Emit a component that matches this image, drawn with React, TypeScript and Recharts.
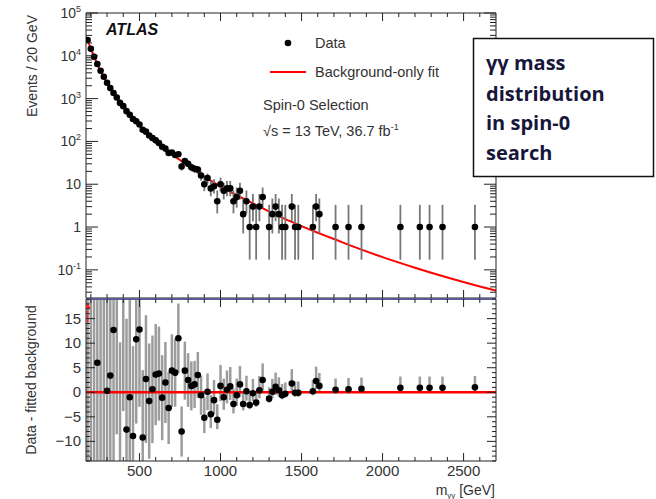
import React from "react";
import { ComposedChart, Line, Scatter, XAxis, YAxis, ErrorBar, ReferenceLine } from "recharts";

// Diphoton events per 20 GeV bin, keyed by bin centre (GeV)
const massBins = [
  180, 200, 220, 240, 260, 280, 300, 320, 340, 360, 380, 400, 420, 440, 460, 480, 500, 520, 540, 560,
  580, 600, 620, 640, 660, 680, 700, 720, 740, 760, 780, 800, 820, 840, 860, 880, 900, 920, 940, 960,
  980, 1000, 1020, 1040, 1060, 1080, 1100, 1120, 1140, 1160, 1180, 1200, 1220, 1240, 1260, 1300, 1320,
  1340, 1360, 1380, 1400, 1440, 1460, 1480, 1570, 1590, 1610, 1710, 1790, 1870, 2110, 2230, 2290, 2370, 2570,
];
const eventCounts = [
  23480, 14560, 9530, 6433, 4460, 3240, 2355, 1763, 1353, 1060, 794, 667, 510, 419, 335, 295, 249, 188, 169, 138,
  120, 106, 92, 75, 68, 54, 55, 48, 50, 26, 35, 30, 25, 23, 22, 16, 10, 14, 8, 9,
  4, 10, 7, 8, 8, 4, 5, 7, 2, 4, 1, 3, 1, 3, 5, 1, 2,
  3, 2, 1, 1, 3, 1, 1, 1, 3, 2, 1, 1, 1, 1, 1, 1, 1, 1,
];
// data minus fitted background, same bins
const residuals = [
  40, -30, 24, 6.0, -20, 30, 0.3, 3.4, 12.7, 24, -18, 22, -7.6, -1.0, -8.9, 10.8, 12.8, -9.2, 2.7, -1.8,
  0.6, 3.6, 3.8, -1.1, 2.0, -3.2, 4.4, 4.0, 11.0, -8.0, 4.4, 2.5, 1.3, 1.6, 3.5, -0.6, -5.2, 0.1, -4.5, -1.6,
  -5.6, 1.3, -1.0, 0.5, 1.2, -2.4, -0.6, 1.6, -2.4, 0.2, -2.6, -0.2, -2.1, 0.4, 2.5, -1.3, 0.1,
  1.1, 0.4, -0.6, -0.3, 1.8, -0.1, -0.1, 0.2, 2.3, 1.3, 0.5, 0.6, 0.7, 0.9, 0.9, 0.9, 0.9, 1.0,
];
// bins whose residual runs off the top of the lower pad
const arrowBins = [180];

// background-only fit
const fitMass = [
  180, 200, 250, 300, 350, 400, 450, 500, 600, 700, 800, 900, 1000, 1100, 1200, 1300, 1400, 1500, 1600,
  1700, 1800, 2000, 2200, 2400, 2600, 2700,
];
const fitEvents = [
  23400, 14590, 5346, 2355, 1175, 645, 380, 236, 102, 50.2, 27.2, 15.1, 8.9, 5.53, 3.58, 2.31, 1.53, 1.05,
  0.736, 0.525, 0.372, 0.198, 0.112, 0.0663, 0.041, 0.0328,
];

// 68% Poisson intervals (down, up) for small counts
const poissonDown = [0, 0.827, 1.292, 1.633, 1.914, 2.159, 2.379, 2.58, 2.768, 2.943, 3.108];
const poissonUp = [1.841, 2.299, 2.637, 2.918, 3.162, 3.382, 3.583, 3.77, 3.944, 4.11, 4.266];

const massTicks = [200, 300, 400, 500, 600, 700, 800, 900, 1000, 1100, 1200, 1300, 1400, 1500, 1600, 1700, 1800, 1900, 2000, 2100, 2200, 2300, 2400, 2500, 2600];
const massLabels = [500, 1000, 1500, 2000, 2500];
const logDecades = [0.1, 1, 10, 100, 1000, 10000, 100000];

const font = "'Liberation Sans', Arial, Helvetica, sans-serif";
const xDomain: [number, number] = [170, 2700];
const eventDomain: [number, number] = [0.022, 100000];
const residualDomain: [number, number] = [-14, 19];

const errOf = (n: number): [number, number] =>
  n <= 10 ? [poissonDown[n], poissonUp[n]] : [Math.sqrt(n), Math.sqrt(n)];

const dataPoints = massBins.map((m, i) => ({ mass: m, value: eventCounts[i], err: errOf(eventCounts[i]) }));

// error bars in the lower pad are cut at the pad edges
const residualPoints = massBins.map((m, i) => {
  const [dn, up] = errOf(eventCounts[i]);
  const v = residuals[i];
  const lo = Math.max(v - dn, residualDomain[0]);
  const hi = Math.min(v + up, residualDomain[1]);
  return { mass: m, value: v, err: [v - lo, hi - v] };
});
const fitPoints = fitMass.map((m, i) => ({ mass: m, value: fitEvents[i] }));
const arrowPoints = arrowBins.map((m) => ({ mass: m, value: 14.2 }));

const logTicks: number[] = [0.03, 0.04, 0.05, 0.06, 0.07, 0.08, 0.09];
logDecades.slice(0, -1).forEach((d) => {
  for (let k = 1; k <= 9; k++) logTicks.push(+(d * k).toPrecision(3));
});
logTicks.push(100000);

const residualTicks: number[] = [];
for (let v = residualDomain[0]; v <= residualDomain[1]; v++) residualTicks.push(v);

// inward tick marks on a horizontal frame edge
const xTick = (dir: number, labels: number[] | null, majorLen: number, minorLen: number) => (p: any) => {
  const v = p.payload.value;
  const major = v % 500 === 0;
  const len = major ? majorLen : minorLen;
  return (
    <g>
      <line x1={p.x} x2={p.x} y1={p.y} y2={p.y + dir * len} stroke="#222" strokeWidth={1} />
      {labels && labels.includes(v) && (
        <text x={p.x} y={p.y + 15} textAnchor="middle" fontSize={15} fontFamily={font} fill="#333">
          {v}
        </text>
      )}
    </g>
  );
};

const logTick = (dir: number, withLabel: boolean) => (p: any) => {
  const v = p.payload.value;
  const lg = Math.log10(v);
  const exp = Math.round(lg);
  const major = Math.abs(lg - exp) < 1e-6;
  const len = major ? 12 : 6;
  let label: React.ReactNode = null;
  if (withLabel && major) {
    label =
      exp === 0 || exp === 1 ? (
        <text x={p.x - 5} y={p.y + 5} textAnchor="end" fontSize={14} fontFamily={font} fill="#333">
          {exp === 0 ? "1" : "10"}
        </text>
      ) : (
        <text x={p.x - 5} y={p.y + 5} textAnchor="end" fontSize={14} fontFamily={font} fill="#333">
          10
          <tspan dy={-6} fontSize={9}>
            {exp}
          </tspan>
        </text>
      );
  }
  return (
    <g>
      <line x1={p.x} x2={p.x + dir * len} y1={p.y} y2={p.y} stroke="#222" strokeWidth={1} />
      {label}
    </g>
  );
};

const linTick = (dir: number, withLabel: boolean) => (p: any) => {
  const v = p.payload.value;
  const major = v % 5 === 0;
  const len = major ? 9 : 4;
  return (
    <g>
      <line x1={p.x} x2={p.x + dir * len} y1={p.y} y2={p.y} stroke="#222" strokeWidth={1} />
      {withLabel && major && (
        <text x={p.x - 5} y={p.y + 5} textAnchor="end" fontSize={15} fontFamily={font} fill="#333">
          {v < 0 ? `\u2212${-v}` : v}
        </text>
      )}
    </g>
  );
};

const Dot = (p: any) => <circle cx={p.cx} cy={p.cy} r={3.3} fill="#000" />;

const Arrow = (p: any) => (
  <g stroke="#ff2020" fill="#ff2020">
    <line x1={p.cx} x2={p.cx} y1={p.cy} y2={p.cy - 16} strokeWidth={1.6} strokeDasharray="3 1.5" />
    <path d={`M${p.cx - 3},${p.cy - 14} L${p.cx},${p.cy - 20} L${p.cx + 3},${p.cy - 14} Z`} stroke="none" />
  </g>
);

export default function App() {
  return (
    <div style={{ position: "absolute", left: 0, top: 0, width: 656, height: 499, background: "#fff" }}>
      {/* upper pad: event yield with the fit */}
      <div style={{ position: "absolute", left: 0, top: 0 }}>
        <ComposedChart width={656} height={300} margin={{ top: 8, right: 100, bottom: 0, left: 26 }}>
          <XAxis xAxisId="b" type="number" dataKey="mass" domain={xDomain} ticks={massTicks} interval={0}
            height={2} tickSize={0} tickMargin={0} axisLine={{ stroke: "#222" }} tickLine={false}
            tick={xTick(-1, null, 8, 4)} allowDataOverflow />
          <XAxis xAxisId="t" orientation="top" type="number" dataKey="mass" domain={xDomain} ticks={massTicks}
            interval={0} height={5} tickSize={0} tickMargin={0} axisLine={{ stroke: "#222" }} tickLine={false}
            tick={xTick(1, null, 8, 4)} allowDataOverflow />
          <YAxis yAxisId="l" scale="log" type="number" dataKey="value" domain={eventDomain} ticks={logTicks}
            interval={0} width={60} tickSize={0} tickMargin={0} axisLine={{ stroke: "#222" }} tickLine={false}
            tick={logTick(1, true)} allowDataOverflow />
          <YAxis yAxisId="r" orientation="right" scale="log" type="number" domain={eventDomain} ticks={logTicks}
            interval={0} width={60} tickSize={0} tickMargin={0} axisLine={{ stroke: "#222" }} tickLine={false}
            tick={logTick(-1, false)} allowDataOverflow />
          <Line xAxisId="b" yAxisId="l" data={fitPoints} dataKey="value" type="monotone" stroke="#ff0000"
            strokeWidth={2} dot={false} isAnimationActive={false} />
          <Scatter xAxisId="b" yAxisId="l" data={dataPoints} dataKey="value" shape={Dot} isAnimationActive={false}>
            <ErrorBar dataKey="err" direction="y" width={0} stroke="#777" strokeWidth={1.8} />
          </Scatter>
        </ComposedChart>
      </div>

      {/* lower pad: data minus fitted background */}
      <div style={{ position: "absolute", left: 0, top: 290 }}>
        <ComposedChart width={656} height={209} margin={{ top: 4, right: 100, bottom: 8, left: 26 }}>
          <XAxis xAxisId="b" type="number" dataKey="mass" domain={xDomain} ticks={massTicks} interval={0}
            height={30} tickSize={0} tickMargin={0} axisLine={{ stroke: "#222" }} tickLine={false}
            tick={xTick(-1, massLabels, 8, 4)} allowDataOverflow />
          <XAxis xAxisId="t" orientation="top" type="number" dataKey="mass" domain={xDomain} ticks={massTicks}
            interval={0} height={5} tickSize={0} tickMargin={0} axisLine={{ stroke: "#5b5b96", strokeWidth: 2 }}
            tickLine={false} tick={xTick(1, null, 8, 4)} allowDataOverflow />
          <YAxis yAxisId="l" type="number" dataKey="value" domain={residualDomain} ticks={residualTicks} interval={0}
            width={60} tickSize={0} tickMargin={0} axisLine={{ stroke: "#222" }} tickLine={false}
            tick={linTick(1, true)} allowDataOverflow />
          <YAxis yAxisId="r" orientation="right" type="number" domain={residualDomain} ticks={residualTicks}
            interval={0} width={60} tickSize={0} tickMargin={0} axisLine={{ stroke: "#222" }} tickLine={false}
            tick={linTick(-1, false)} allowDataOverflow />
          <Scatter xAxisId="b" yAxisId="l" data={residualPoints} dataKey="value" shape={Dot} isAnimationActive={false}>
            <ErrorBar dataKey="err" direction="y" width={0} stroke="#9c9c9c" strokeWidth={2.5} />
          </Scatter>
          <ReferenceLine xAxisId="b" yAxisId="l" y={0} stroke="#ff0000" strokeWidth={2.5} />
          <Scatter xAxisId="b" yAxisId="l" data={arrowPoints} dataKey="value" shape={Arrow} isAnimationActive={false} />
        </ComposedChart>
      </div>

      {/* titles, legend and caption */}
      <svg width={656} height={499} style={{ position: "absolute", left: 0, top: 0, pointerEvents: "none" }}>
        <text transform="translate(37,66) rotate(-90)" textAnchor="middle" fontSize={14} fontFamily={font} fill="#333">
          Events / 20 GeV
        </text>
        <text transform="translate(36,380) rotate(-90)" textAnchor="middle" fontSize={14} fontFamily={font} fill="#333">
          Data - fitted background
        </text>
        <text x={495} y={495} textAnchor="end" fontSize={14} fontFamily={font} fill="#333">
          m<tspan dy={3} fontSize={8}>γγ</tspan>
          <tspan dy={-3}> [GeV]</tspan>
        </text>

        <text x={106} y={35} fontSize={16} fontWeight="bold" fontStyle="italic" fontFamily={font} fill="#111">
          ATLAS
        </text>
        <circle cx={288} cy={43} r={3.3} fill="#000" />
        <text x={315} y={48} fontSize={14.5} fontFamily={font} fill="#333">Data</text>
        <line x1={270} x2={306} y1={72} y2={72} stroke="#ff0000" strokeWidth={2} />
        <text x={315} y={77} fontSize={14.5} fontFamily={font} fill="#333">Background-only fit</text>
        <text x={263} y={110} fontSize={14.5} fontFamily={font} fill="#333">Spin-0 Selection</text>
        <text x={263} y={136} fontSize={14.5} fontFamily={font} fill="#333">
          √s = 13 TeV, 36.7 fb<tspan dy={-6} fontSize={9}>-1</tspan>
        </text>

        <rect x={473.5} y={38.5} width={180} height={138} fill="#fff" stroke="#111" strokeWidth={1.5} />
        <g fontSize={20} fontWeight="bold" fontFamily="'Open Sans', 'DejaVu Sans', sans-serif" fill="#16163a">
          <text x={486} y={70}>γγ mass</text>
          <text x={486} y={101}>distribution</text>
          <text x={486} y={130}>in spin-0</text>
          <text x={486} y={160}>search</text>
        </g>
      </svg>
    </div>
  );
}
